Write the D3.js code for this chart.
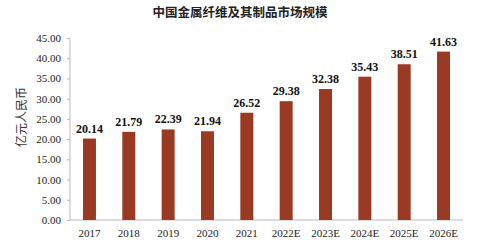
<!DOCTYPE html>
<html>
<head>
<meta charset="utf-8">
<script src="https://cdn.jsdelivr.net/npm/d3@7"></script>
<style>
  body { margin: 0; background: #fff; }
</style>
</head>
<body>
<svg width="479" height="240"></svg>
<script>
var years = ["2017", "2018", "2019", "2020", "2021", "2022E", "2023E", "2024E", "2025E", "2026E"];
var values = [20.14, 21.79, 22.39, 21.94, 26.52, 29.38, 32.38, 35.43, 38.51, 41.63];
var yTicks = [0, 5, 10, 15, 20, 25, 30, 35, 40, 45];

var svg = d3.select("svg"),
    plotLeft = 70, plotRight = 463, plotTop = 38, plotBottom = 220;

var serif = "'Liberation Serif', 'Times New Roman', serif";

svg.append("text")
   .attr("x", 240)
   .attr("y", 17)
   .attr("text-anchor", "middle")
   .attr("font-family", "'Noto Sans CJK SC', sans-serif")
   .attr("font-weight", "bold")
   .attr("font-size", "12.5px")
   .attr("fill", "#222")
   .text("中国金属纤维及其制品市场规模");

var xScale = d3.scaleBand().domain(years).range([plotLeft, plotRight]).paddingInner(0.67).paddingOuter(0.33),
    yScale = d3.scaleLinear().domain([0, 45]).range([plotBottom, plotTop]);

// y axis
svg.append("g")
   .attr("transform", "translate(" + plotLeft + ",0)")
   .call(d3.axisLeft(yScale).tickValues(yTicks).tickSize(3).tickFormat(d3.format(".2f")))
   .call(g => g.selectAll("line, path").attr("stroke", "#bbb"))
   .call(g => g.select(".domain").attr("d", "M0," + plotTop + "V" + plotBottom))
   .call(g => g.selectAll("text")
      .attr("font-family", serif)
      .attr("font-size", "11px")
      .attr("fill", "#222")
      .attr("dx", "-3px"));

// x axis
svg.append("g")
   .attr("transform", "translate(0," + plotBottom + ")")
   .call(d3.axisBottom(xScale).tickSize(0).tickPadding(9))
   .call(g => g.select(".domain").attr("stroke", "#bbb").attr("d", "M" + plotLeft + ",0H" + plotRight))
   .call(g => g.selectAll("text")
      .attr("font-family", serif)
      .attr("font-size", "11px")
      .attr("fill", "#222"));

svg.append("text")
   .attr("transform", "translate(20,117) rotate(-90)")
   .attr("text-anchor", "middle")
   .attr("dominant-baseline", "central")
   .attr("font-family", "'Noto Sans CJK SC', sans-serif")
   .attr("font-size", "12px")
   .attr("fill", "#333")
   .text("亿元人民币");

svg.selectAll(".bar")
   .data(values)
   .enter().append("rect")
   .attr("class", "bar")
   .attr("x", function(d, i) { return xScale(years[i]); })
   .attr("y", function(d) { return yScale(d); })
   .attr("width", xScale.bandwidth())
   .attr("height", function(d) { return plotBottom - yScale(d); })
   .attr("fill", "#9b3a22");

svg.selectAll(".val")
   .data(values)
   .enter().append("text")
   .attr("class", "val")
   .attr("x", function(d, i) { return xScale(years[i]) + xScale.bandwidth() / 2; })
   .attr("y", function(d) { return yScale(d) - 6; })
   .attr("text-anchor", "middle")
   .attr("font-family", serif)
   .attr("font-weight", "bold")
   .attr("font-size", "12px")
   .attr("fill", "#111")
   .text(function(d) { return d.toFixed(2); });
</script>
</body>
</html>
